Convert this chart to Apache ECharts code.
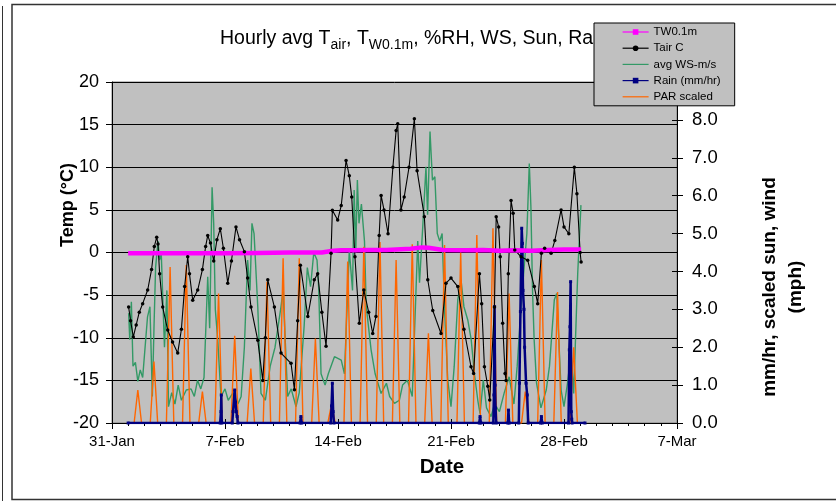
<!DOCTYPE html>
<html><head><meta charset="utf-8">
<script src="https://cdn.jsdelivr.net/npm/echarts@6/dist/echarts.min.js"></script>
<style>html,body{margin:0;padding:0;background:#fff}#c{width:836px;height:501px}</style>
</head><body><div id="c"></div>
<script>
// x values are days since 31-Jan 00:00
const xTickLabels = ['31-Jan','7-Feb','14-Feb','21-Feb','28-Feb','7-Mar'];

const twData = [[1.0,-0.1],[3,-0.1],[5,-0.1],[7,-0.1],[9,-0.05],[11,0],[13,0.0],[13.7,0.2],[14.2,0.25],[15,0.25],[16,0.3],[17,0.3],[18.5,0.45],[19.2,0.6],[19.6,0.55],[20.5,0.3],[22,0.25],[23,0.3],[24,0.2],[25,0.25],[26,0.2],[27,0.3],[28,0.35],[29.06,0.35]];

const tairData = [[1.03,-6.4],[1.15,-8.0],[1.32,-9.9],[1.5,-8.5],[1.69,-7.0],[1.9,-6.0],[2.21,-4.4],[2.45,-2.0],[2.62,0.7],[2.77,1.8],[2.85,1.0],[2.95,-2.5],[3.14,-6.4],[3.45,-9.1],[3.75,-10.5],[4.07,-11.8],[4.3,-9.0],[4.5,-4.0],[4.69,-0.5],[4.8,-2.5],[5.0,-5.6],[5.31,-4.4],[5.6,-2.0],[5.8,0.7],[5.93,2.0],[6.1,1.1],[6.3,-1.0],[6.5,1.5],[6.71,2.8],[6.9,0.5],[7.17,-3.6],[7.4,-1.0],[7.68,3.0],[7.9,1.5],[8.2,0.1],[8.4,-3.0],[8.61,-6.4],[9.03,-10.3],[9.34,-15.0],[9.5,-10.0],[9.65,-3.2],[10.06,-6.4],[10.47,-11.8],[11.09,-13.0],[11.3,-16.1],[11.5,-8.0],[11.67,-1.5],[12.13,-7.5],[12.53,-3.2],[12.74,-2.5],[13.0,-7.0],[13.26,-11.0],[13.57,-0.1],[13.65,4.95],[13.98,3.8],[14.2,5.5],[14.5,10.8],[14.7,9],[14.85,6.5],[15.05,-0.5],[15.32,-8.3],[15.6,-4.4],[15.9,-7],[16.15,-9.5],[16.35,-7.5],[16.55,2],[16.67,6.7],[16.85,5],[17.1,2.2],[17.4,10],[17.6,14.3],[17.7,15.1],[17.9,5.0],[18.1,6.5],[18.4,10],[18.73,15.7],[18.9,9.6],[19.35,4.2],[19.56,-3.2],[19.87,-6.8],[20.38,-9.5],[20.69,-3.6],[21.0,-3.0],[21.42,-4.0],[21.8,-9],[22.24,-13.4],[22.4,-14.2],[22.76,-2.5],[22.9,-6],[23.07,-13.4],[23.28,-15.7],[23.4,-17.3],[23.69,-6.4],[23.8,4.2],[23.95,3.0],[24.05,-0.5],[24.2,-8.3],[24.35,-14.2],[24.41,-15.0],[24.55,-2.5],[24.72,6.1],[24.85,4.6],[24.95,0.3],[25.34,-0.5],[25.75,-0.9],[26.16,-4.0],[26.37,-6.0],[26.6,-0.1],[26.8,0.5],[27.2,-0.1],[27.43,1.4],[27.82,5.0],[28.0,3.0],[28.3,2.2],[28.64,10.0],[28.8,6.9],[29.0,0],[29.06,-1.1]];

const wsData = [[1.03,2.9],[1.1,2.2],[1.2,3.2],[1.3,1.5],[1.45,1.6],[1.6,1.1],[1.75,1.4],[1.9,1.2],[2.2,2.8],[2.35,3.07],[2.5,0.7],[2.6,2.5],[2.7,4.1],[2.85,4.8],[2.95,4.3],[3.05,4.5],[3.25,2.0],[3.4,3.5],[3.5,0.43],[3.7,0.8],[3.9,0.5],[4.1,1.0],[4.3,0.6],[4.6,0.87],[4.9,0.9],[5.1,0.7],[5.3,1.13],[5.5,0.9],[5.7,1.2],[5.93,3.86],[6.05,2.5],[6.2,6.22],[6.3,5.27],[6.4,3.0],[6.55,2.2],[6.75,0.7],[7.0,0.9],[7.2,0.6],[7.5,0.8],[7.8,0.5],[8.0,0.7],[8.2,2.0],[8.4,4.3],[8.55,3.5],[8.67,5.27],[8.8,5.0],[9.03,3.07],[9.23,0.78],[9.5,0.6],[9.8,1.5],[10.1,2.0],[10.47,3.07],[10.6,3.5],[10.88,0.7],[11.1,0.9],[11.4,0.43],[11.6,0.8],[11.9,2.54],[12.1,4.1],[12.3,3.6],[12.5,4.5],[12.7,4.3],[12.8,3.6],[12.95,1.3],[13.2,1.0],[13.4,1.3],[13.78,1.75],[14.2,1.66],[14.4,1.3],[14.7,4.56],[14.9,3.5],[15.0,6.15],[15.1,4.5],[15.2,6.41],[15.3,5.27],[15.45,5.78],[15.64,4.8],[15.75,3.07],[16.05,1.93],[16.3,1.3],[16.67,0.78],[17.0,1.05],[17.2,0.7],[17.5,0.52],[17.8,0.6],[18.0,1.0],[18.3,1.13],[18.6,0.7],[18.94,4.8],[19.05,3.7],[19.25,5.18],[19.45,6.76],[19.55,5.5],[19.7,7.69],[19.85,6.41],[20.0,6.5],[20.15,5.0],[20.3,4.8],[20.45,5.0],[20.6,3.0],[20.8,1.13],[21.0,0.43],[21.2,1.5],[21.42,3.25],[21.62,3.77],[21.8,3.07],[22.04,2.72],[22.25,2.2],[22.45,1.3],[22.66,0.6],[22.8,0.25],[23.0,1.13],[23.2,0.4],[23.48,0.17],[23.7,0.5],[24.0,0.3],[24.3,0.8],[24.6,1.22],[24.9,0.5],[25.1,1.5],[25.34,3.07],[25.5,3.95],[25.7,5.0],[25.85,6.85],[25.95,5.7],[26.05,3.5],[26.15,2.2],[26.3,1.05],[26.57,0.4],[26.9,0.87],[27.1,1.5],[27.4,3.25],[27.55,3.42],[27.82,0.87],[28.0,0.43],[28.2,1.0],[28.44,1.84],[28.6,0.78],[28.85,3.95],[29.05,5.75]];

const rainData = [[1.0,0],[6.7,0],[6.75,0.3],[6.77,0.74],[6.8,0],[7.45,0],[7.5,0.3],[7.6,0.87],[7.65,0.55],[7.7,0.3],[7.75,0.17],[7.8,0],[11.65,0],[11.7,0.17],[11.75,0],[13.55,0],[13.6,0.45],[13.65,1.05],[13.7,0.3],[13.75,0],[22.75,0],[22.8,0.17],[22.85,0],[23.62,0],[23.66,0.74],[23.68,2.0],[23.7,3.07],[23.73,1.0],[23.76,0.4],[23.8,0],[24.52,0],[24.56,0.34],[24.6,0],[25.2,0],[25.24,1.05],[25.3,2.94],[25.38,5.14],[25.42,4.74],[25.46,3.5],[25.52,3.0],[25.56,2.0],[25.65,1.05],[25.72,0.74],[25.78,0],[26.55,0],[26.6,0.17],[26.65,0],[28.28,0],[28.33,1.93],[28.37,2.54],[28.41,3.73],[28.45,0.3],[28.48,0.1],[28.5,0],[29.3,0]];

// PAR scaled: daily peaks for 1-Feb .. 28-Feb (zero at night)
const parDays = [1,2,3,4,5,6,7,8,9,10,11,12,13,14,15,16,17,18,19,20,21,22,23,24,25,26,27,28];
const parPeaks = [0.87,1.62,4.12,4.17,0.83,3.42,2.3,1.44,3.73,4.35,4.35,2.23,0.5,4.26,4.65,4.78,4.3,4.72,2.37,4.7,4.5,4.96,5.14,3.42,0.83,4.3,3.46,2.0];
const parData = [];
parDays.forEach((d, i) => { parData.push([d + 0.37, 0], [d + 0.6, parPeaks[i]], [d + 0.83, 0]); });

const FF = '"Liberation Sans", Arial, sans-serif';
const chart = echarts.init(document.getElementById('c'));
chart.setOption({
  animation: false,
  backgroundColor: '#fff',
  title: {
    left: 220, top: 26, padding: 0, z: 1,
    text: '{a|Hourly avg T}{s|air}{a|, T}{s|W0.1m}{a|, %RH, WS, Sun, Rain}',
    textStyle: { fontFamily: FF, fontWeight: 'normal', color: '#000', fontSize: 19.5,
      rich: { a: { fontFamily: FF, fontSize: 19.5, lineHeight: 26, color: '#000' },
              s: { fontFamily: FF, fontSize: 14, lineHeight: 13, verticalAlign: 'bottom', color: '#000' } } }
  },
  legend: {
    orient: 'vertical', left: 594, top: 23, z: 20,
    padding: [3, 14, 3, 28], itemWidth: 26, itemHeight: 7, itemGap: 4.2,
    backgroundColor: '#C0C0C0', borderColor: '#000', borderWidth: 1,
    lineStyle: { width: 1.2 },
    textStyle: { fontFamily: FF, fontSize: 11.5, lineHeight: 12, color: '#000' },
    data: ['TW0.1m', 'Tair C', { name: 'avg WS-m/s', itemStyle: { opacity: 0 } }, 'Rain (mm/hr)', { name: 'PAR scaled', itemStyle: { opacity: 0 } }]
  },
  grid: { left: 112, right: 159, top: 82, bottom: 78, show: true, backgroundColor: '#C0C0C0', borderColor: '#808080', borderWidth: 1 },
  xAxis: [{
    type: 'value', min: 0, max: 35, interval: 7, position: 'bottom',
    axisLine: { show: true, onZero: false, lineStyle: { color: '#000', width: 1 } },
    axisTick: { show: true, length: 6, lineStyle: { color: '#000' } },
    minorTick: { show: true, splitNumber: 7, length: 3, lineStyle: { color: '#000' } },
    splitLine: { show: false },
    axisLabel: { fontFamily: FF, fontSize: 15, color: '#000', margin: 11,
      formatter: (v) => xTickLabels[Math.round(v / 7)] }
  }, {
    type: 'value', min: 0, max: 35, interval: 7, position: 'bottom',
    axisLine: { show: false, onZero: false }, axisLabel: { show: false }, splitLine: { show: false },
    axisTick: { show: true, inside: true, length: 4, lineStyle: { color: '#000' } }
  }],
  yAxis: [{
    type: 'value', min: -20, max: 20, interval: 5, position: 'left',
    axisLine: { show: true, onZero: false, lineStyle: { color: '#000' } },
    axisTick: { show: true, length: 6, lineStyle: { color: '#000' } },
    splitLine: { show: true, lineStyle: { color: '#000', width: 1 } },
    axisLabel: { fontFamily: FF, fontSize: 18, color: '#000', margin: 13 }
  }, {
    type: 'value', min: 0, max: 9, interval: 1, position: 'right',
    axisLine: { show: true, onZero: false, lineStyle: { color: '#000' } },
    axisTick: { show: true, length: 6, lineStyle: { color: '#000' } },
    splitLine: { show: false },
    axisLabel: { fontFamily: FF, fontSize: 18.5, color: '#000', margin: 15,
      formatter: (v) => v >= 9 ? '' : v.toFixed(1) }
  }, {
    type: 'value', min: -20, max: 20, interval: 5, position: 'left',
    axisLine: { show: false, onZero: false }, axisLabel: { show: false }, splitLine: { show: false },
    axisTick: { show: true, inside: true, length: 5, lineStyle: { color: '#000' } }
  }, {
    type: 'value', min: 0, max: 9, interval: 1, position: 'right',
    axisLine: { show: false, onZero: false }, axisLabel: { show: false }, splitLine: { show: false },
    axisTick: { show: true, inside: true, length: 5, lineStyle: { color: '#000' } }
  }],
  graphic: [
    { type: 'rect', shape: { x: 12, y: 4.5, width: 900, height: 495 }, style: { fill: null, stroke: '#333', lineWidth: 1.5 }, z: 0, silent: true },
    { type: 'line', shape: { x1: 2.5, y1: 6, x2: 2.5, y2: 501 }, style: { stroke: '#333', lineWidth: 1 }, silent: true },
    { type: 'text', x: 68, y: 205, rotation: Math.PI / 2, style: { text: 'Temp (°C)', fontFamily: FF, fontSize: 18, fontWeight: 'bold', fill: '#000', align: 'center', verticalAlign: 'middle' } },
    { type: 'text', x: 783, y: 287, rotation: Math.PI / 2, style: { text: 'mm/hr, scaled sun, wind\n(mph)', fontFamily: FF, fontSize: 19, fontWeight: 'bold', fill: '#000', align: 'center', verticalAlign: 'middle', lineHeight: 26 } },
    { type: 'text', x: 442, y: 467, style: { text: 'Date', fontFamily: FF, fontSize: 20.5, fontWeight: 'bold', fill: '#000', align: 'center', verticalAlign: 'middle' } }
  ],
  series: [
    { name: 'avg WS-m/s', type: 'line', yAxisIndex: 1, data: wsData, symbol: 'none', lineStyle: { color: '#339966', width: 1.4 }, itemStyle: { color: '#339966' } },
    { name: 'PAR scaled', type: 'line', yAxisIndex: 1, data: parData, symbol: 'none', lineStyle: { color: '#FF6600', width: 1.4 }, itemStyle: { color: '#FF6600' } },
    { name: 'Rain (mm/hr)', type: 'line', yAxisIndex: 1, data: rainData, symbol: 'rect', symbolSize: 3, lineStyle: { color: '#000080', width: 2.5 }, itemStyle: { color: '#000080' } },
    { name: 'Tair C', type: 'line', yAxisIndex: 0, data: tairData, symbol: 'circle', symbolSize: 3.5, lineStyle: { color: '#000', width: 1.1 }, itemStyle: { color: '#000' } },
    { name: 'TW0.1m', type: 'line', yAxisIndex: 0, data: twData, symbol: 'rect', symbolSize: 5, showSymbol: false, lineStyle: { color: '#FF00FF', width: 4.5 }, itemStyle: { color: '#FF00FF' } }
  ]
});
</script></body></html>
